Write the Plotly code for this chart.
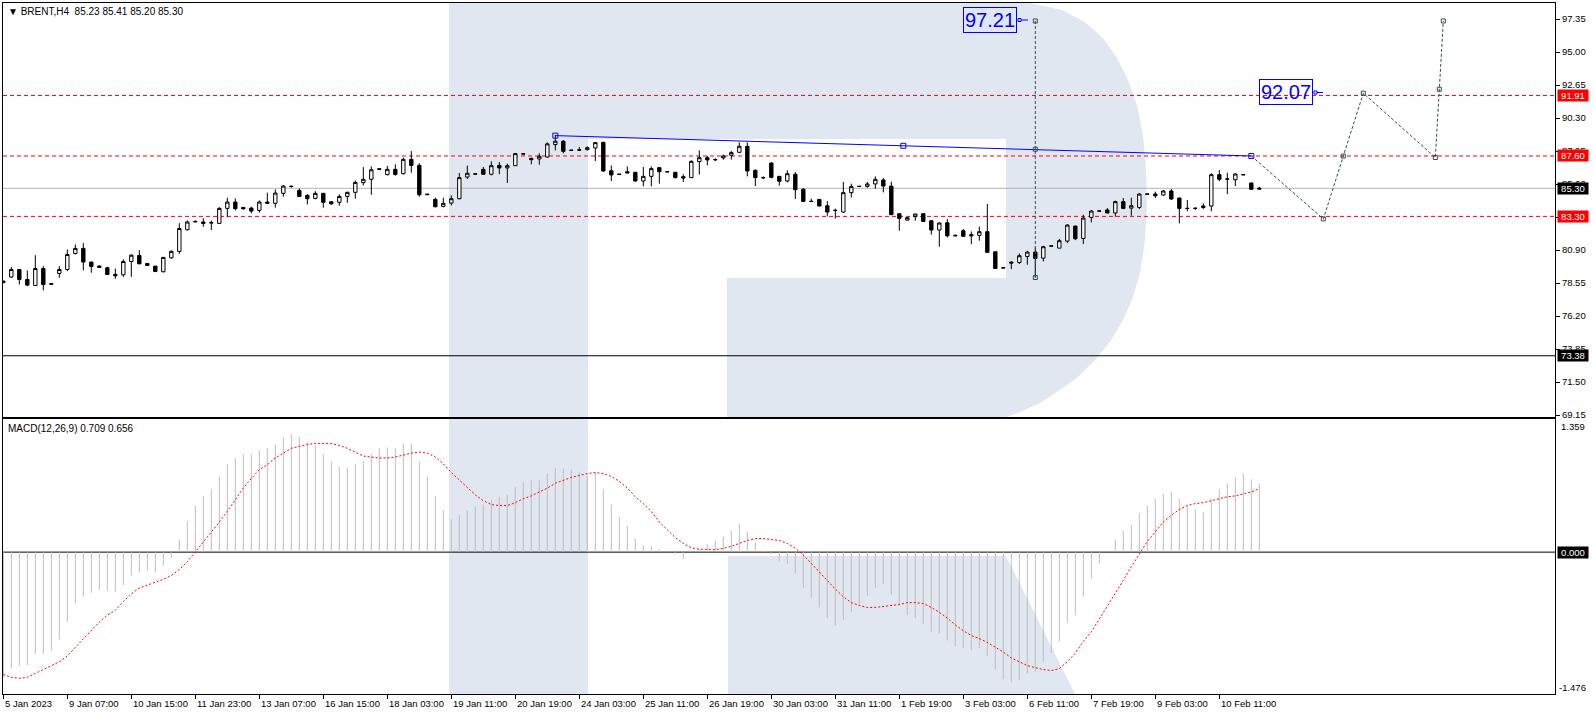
import plotly.graph_objects as go

# ---------------- DATA ----------------
OPEN = [78.58,78.98,79.52,78.81,78.38,79.59,78.52,79.24,79.52,80.66,81.02,80.05,79.76,79.64,79.17,79.14,80.09,80.52,79.95,79.76,
        79.36,80.35,80.81,82.35,82.95,82.90,82.86,82.80,83.87,84.32,83.94,83.89,83.73,84.32,84.23,84.94,85.45,85.15,84.80,84.58,
        84.94,84.34,84.30,84.72,85.01,85.70,85.94,86.69,86.27,86.65,86.34,87.36,86.93,84.89,84.51,84.01,84.25,84.56,86.10,86.33,
        86.65,86.30,86.93,86.75,86.91,87.76,87.43,87.39,87.53,88.41,88.65,88.02,88.04,88.05,88.17,88.57,86.55,86.31,86.48,86.44,
        85.82,86.15,86.77,86.49,86.44,86.13,86.06,87.20,87.48,87.35,87.46,87.65,87.86,88.29,86.58,86.07,87.10,86.15,85.82,86.30,
        85.23,84.38,84.51,84.06,83.74,83.61,84.99,85.45,85.44,85.61,85.89,85.46,83.49,83.04,83.28,83.49,82.99,82.33,82.85,81.96,
        82.28,82.00,81.95,82.21,80.78,79.65,80.05,80.02,80.45,80.76,80.33,81.18,81.04,81.54,82.61,81.73,83.23,83.67,83.76,83.54,
        84.35,83.89,83.94,84.90,84.89,84.82,85.11,84.61,83.88,83.86,84.04,84.04,86.27,85.97,85.91,86.28,85.68,85.23]
HIGH = [78.72,79.69,79.55,79.45,80.54,79.76,78.53,79.76,80.95,81.30,81.40,80.07,79.83,79.71,79.59,80.24,80.59,80.90,79.97,79.76,
        80.40,80.88,82.82,83.01,83.01,83.16,83.01,83.96,84.63,84.58,83.96,83.99,84.44,84.99,85.22,85.53,85.48,85.29,84.87,85.10,
        84.94,84.39,84.87,85.06,85.86,86.81,86.86,86.70,86.89,87.01,87.48,87.95,87.08,84.90,84.63,84.63,84.80,86.39,86.91,86.35,
        86.82,87.22,87.17,87.05,87.81,87.78,87.48,87.79,88.57,89.10,88.72,88.03,88.24,88.29,88.60,88.62,86.93,86.32,86.86,86.44,
        86.82,86.86,86.77,86.50,86.44,86.30,87.29,88.00,87.60,87.43,87.70,87.96,88.57,88.57,86.65,86.15,87.15,86.15,86.58,86.46,
        85.30,84.56,84.54,84.39,83.85,85.75,85.63,85.46,85.75,86.15,86.03,85.77,83.49,83.25,83.47,83.49,83.04,82.87,83.11,81.98,
        82.40,82.23,82.57,84.18,80.78,79.66,80.09,80.66,80.85,81.09,81.21,81.22,81.69,82.75,82.64,83.42,83.75,83.71,83.89,84.42,
        84.61,84.63,84.94,84.91,85.06,85.18,85.25,84.63,84.47,83.94,84.23,86.37,86.60,86.41,86.37,86.32,85.70,85.41]
LOW = [78.55,78.93,78.45,78.33,78.38,78.03,78.47,78.93,79.40,80.59,79.45,79.29,79.64,79.12,78.86,79.00,79.00,79.88,79.79,79.33,
       79.31,80.28,80.64,82.30,82.87,82.56,82.33,82.78,83.25,83.73,83.77,83.51,83.56,84.20,83.92,84.70,85.34,84.68,84.15,84.51,
       83.92,84.11,84.06,84.27,84.56,85.50,84.84,86.62,86.22,86.20,86.29,86.41,84.70,84.84,83.94,83.94,84.08,84.51,85.96,86.28,
       86.27,86.22,86.30,85.68,86.91,87.72,87.01,86.98,87.48,88.00,87.79,87.99,87.96,88.00,87.24,86.48,85.82,86.28,86.39,85.77,
       85.44,85.44,85.63,86.46,86.01,85.75,86.03,86.27,86.93,87.24,87.34,87.34,87.84,86.15,85.46,85.96,86.01,85.49,85.72,84.54,
       84.32,84.35,84.02,83.30,83.14,83.54,84.65,85.42,85.34,85.27,85.01,83.40,82.28,83.00,82.99,82.92,82.00,81.14,81.80,81.90,
       81.85,81.33,81.57,80.74,79.59,79.62,79.55,79.91,79.86,78.95,80.09,81.17,81.04,81.40,81.61,81.33,82.87,83.66,83.52,83.28,
       83.82,83.35,83.82,84.87,84.61,84.77,84.47,82.80,83.66,83.76,83.82,83.66,85.80,84.89,85.46,86.22,85.20,85.20]
CLOSE = [78.69,79.52,78.81,78.41,79.59,78.45,78.48,79.52,80.59,81.02,80.05,79.74,79.67,79.17,79.07,80.09,80.54,79.93,79.81,79.38,
         80.38,80.81,82.44,82.90,82.92,82.80,82.84,83.87,84.32,83.85,83.85,83.68,84.32,84.23,84.96,85.46,85.43,84.72,84.56,84.94,
         84.30,84.20,84.72,85.01,85.72,85.94,86.62,86.65,86.65,86.29,87.36,86.93,84.84,84.85,83.99,84.23,84.56,86.06,86.37,86.31,
         86.30,86.91,86.75,86.91,87.77,87.74,87.34,87.58,88.46,88.65,87.93,88.00,88.02,88.19,88.55,86.53,86.25,86.29,86.39,85.82,
         86.15,86.70,86.48,86.47,86.06,86.03,87.22,87.48,87.32,87.33,87.60,87.84,88.29,86.53,86.06,86.05,86.08,85.80,86.34,85.20,
         84.37,84.36,84.04,83.61,83.72,84.99,85.42,85.43,85.61,85.94,85.46,83.42,83.16,83.21,83.47,82.94,82.33,82.83,81.92,81.92,
         81.88,81.92,82.21,80.74,79.59,79.63,79.98,80.50,80.76,80.31,81.14,81.20,81.57,82.68,81.71,83.18,83.68,83.69,83.54,84.35,
         83.87,84.06,84.89,84.88,84.77,85.11,84.54,83.87,83.86,83.88,83.94,86.27,85.94,85.95,86.32,86.26,85.23,85.30]

MACD_HIST = [-1.29,-1.20,-1.17,-1.165,-1.05,-1.05,-1.01,-0.90,-0.72,-0.53,-0.46,-0.42,-0.39,-0.40,-0.41,-0.34,-0.24,-0.21,-0.19,-0.21,
             -0.14,-0.06,0.13,0.32,0.48,0.58,0.65,0.78,0.91,0.97,1.01,1.01,1.05,1.07,1.11,1.18,1.22,1.19,1.13,1.10,
             1.01,0.93,0.88,0.87,0.91,0.94,1.01,1.07,1.08,1.07,1.12,1.12,0.93,0.78,0.58,0.43,0.34,0.38,0.43,0.47,
             0.49,0.54,0.57,0.59,0.67,0.72,0.74,0.74,0.81,0.87,0.86,0.85,0.82,0.79,0.82,0.65,0.49,0.36,0.27,0.14,
             0.07,0.06,0.03,0.005,-0.02,-0.07,0.005,0.03,0.08,0.12,0.16,0.22,0.29,0.21,0.10,0.01,-0.02,-0.10,-0.12,-0.22,
             -0.37,-0.47,-0.57,-0.68,-0.76,-0.70,-0.62,-0.54,-0.45,-0.37,-0.33,-0.44,-0.55,-0.65,-0.68,-0.74,-0.82,-0.84,-0.91,-0.97,
             -0.99,-1.01,-0.99,-1.07,-1.21,-1.31,-1.34,-1.32,-1.25,-1.23,-1.13,-1.04,-0.92,-0.73,-0.65,-0.46,-0.27,-0.12,0.0,0.13,
             0.22,0.28,0.40,0.48,0.55,0.60,0.62,0.55,0.49,0.44,0.41,0.55,0.65,0.71,0.77,0.81,0.75,0.709]
MACD_SIGNAL = [-1.26,-1.29,-1.30,-1.29,-1.25,-1.21,-1.165,-1.13,-1.07,-0.98,-0.89,-0.80,-0.72,-0.65,-0.60,-0.51,-0.43,-0.37,-0.34,-0.31,
               -0.28,-0.24,-0.18,-0.10,0.00,0.10,0.21,0.31,0.42,0.54,0.66,0.76,0.85,0.90,0.97,1.02,1.07,1.09,1.11,1.12,
               1.12,1.12,1.10,1.07,1.03,0.99,0.98,0.97,0.97,0.98,1.00,1.02,1.03,1.02,0.98,0.91,0.82,0.74,0.66,0.59,
               0.53,0.49,0.48,0.48,0.51,0.55,0.58,0.62,0.66,0.71,0.74,0.77,0.79,0.81,0.82,0.81,0.78,0.73,0.66,0.57,
               0.50,0.42,0.31,0.23,0.15,0.09,0.045,0.03,0.025,0.025,0.04,0.06,0.09,0.12,0.14,0.14,0.13,0.12,0.09,0.04,
               -0.03,-0.12,-0.21,-0.30,-0.38,-0.46,-0.52,-0.55,-0.57,-0.57,-0.56,-0.55,-0.54,-0.52,-0.52,-0.53,-0.57,-0.62,-0.68,-0.75,
               -0.81,-0.86,-0.89,-0.93,-0.98,-1.03,-1.09,-1.13,-1.17,-1.19,-1.21,-1.22,-1.20,-1.13,-1.04,-0.92,-0.82,-0.69,-0.56,-0.43,
               -0.29,-0.15,-0.02,0.11,0.21,0.31,0.38,0.44,0.48,0.50,0.51,0.53,0.55,0.57,0.58,0.60,0.62,0.656]

XTICK_LABELS = ["5 Jan 2023","9 Jan 07:00","10 Jan 15:00","11 Jan 23:00","13 Jan 07:00","16 Jan 15:00","18 Jan 03:00",
                "19 Jan 11:00","20 Jan 19:00","24 Jan 03:00","25 Jan 11:00","26 Jan 19:00","30 Jan 03:00","31 Jan 11:00",
                "1 Feb 19:00","3 Feb 03:00","6 Feb 11:00","7 Feb 19:00","9 Feb 03:00","10 Feb 11:00"]
XTICK_BARS = [0,8,16,24,32,40,48,56,64,72,80,88,96,104,112,120,128,136,144,152]
PRICE_TICKS = [69.15,71.50,73.85,76.20,78.55,80.90,83.25,85.60,87.95,90.30,92.65,95.00,97.35]

LEVELS_RED = [91.91, 87.60, 83.30]
BID = 85.30
BLACK_LEVEL = 73.38

TREND_X = [69, 156]
TREND_Y = [89.05, 87.60]
FORECAST_X = [156, 165, 170, 179, 180]
FORECAST_Y = [87.60, 83.12, 92.07, 87.49, 97.21]
VLINE_X = 129
VLINE_Y = [97.21, 78.95]

HEADER = "▼ BRENT,H4\u00a0\u00a085.23 85.41 85.20 85.30"
MACD_HEADER = "MACD(12,26,9) 0.709 0.656"

# ---------------- GEOMETRY ----------------
W, H = 1595, 716
ML, MR, MT, MB = 3, 40, 3, 22
PW = W - ML - MR
PH = H - MT - MB

def px(x):
    return (x - ML) / PW

def py(y):
    return (H - MB - y) / PH

def path(points):
    return "M " + " L ".join(f"{px(x):.5f},{py(y):.5f}" for x, y in points) + " Z"

FONT = "Liberation Sans, Arial, sans-serif"
LOGO = "#E0E7F0"
N = len(OPEN)
X = list(range(N))

fig = go.Figure()

# ---- candles ----
fig.add_trace(go.Candlestick(
    x=X, open=OPEN, high=HIGH, low=LOW, close=CLOSE,
    increasing=dict(fillcolor="white", line=dict(color="black", width=1)),
    decreasing=dict(fillcolor="black", line=dict(color="black", width=1)),
    whiskerwidth=0, xaxis="x", yaxis="y", showlegend=False, hoverinfo="skip"))

# ---- trend line (blue) ----
fig.add_trace(go.Scatter(x=TREND_X, y=TREND_Y, mode="lines", line=dict(color="#0000FF", width=1),
                         xaxis="x", yaxis="y", showlegend=False, hoverinfo="skip"))
fig.add_trace(go.Scatter(x=[TREND_X[0], (TREND_X[0] + TREND_X[1]) / 2, TREND_X[1]],
                         y=[TREND_Y[0], (TREND_Y[0] + TREND_Y[1]) / 2, TREND_Y[1]],
                         mode="markers", marker=dict(symbol="square-open", size=5, color="#0000FF", line=dict(width=1)),
                         xaxis="x", yaxis="y", showlegend=False, hoverinfo="skip"))

# ---- forecast path (dashed) ----
DSG = "#2F4F4F"
fig.add_trace(go.Scatter(x=FORECAST_X, y=FORECAST_Y, mode="lines",
                         line=dict(color=DSG, width=1, dash="3px,2px"),
                         xaxis="x", yaxis="y", showlegend=False, hoverinfo="skip"))
mx = FORECAST_X[1:] + [(FORECAST_X[1] + FORECAST_X[2]) / 2, (FORECAST_X[3] + FORECAST_X[4]) / 2]
my = FORECAST_Y[1:] + [(FORECAST_Y[1] + FORECAST_Y[2]) / 2, (FORECAST_Y[3] + FORECAST_Y[4]) / 2]
fig.add_trace(go.Scatter(x=mx, y=my, mode="markers",
                         marker=dict(symbol="square-open", size=4, color=DSG, line=dict(width=1)),
                         xaxis="x", yaxis="y", showlegend=False, hoverinfo="skip"))
fig.add_trace(go.Scatter(x=[VLINE_X, VLINE_X], y=VLINE_Y, mode="lines",
                         line=dict(color=DSG, width=1, dash="3px,2px"),
                         xaxis="x", yaxis="y", showlegend=False, hoverinfo="skip"))
fig.add_trace(go.Scatter(x=[VLINE_X] * 3, y=[VLINE_Y[0], (VLINE_Y[0] + VLINE_Y[1]) / 2, VLINE_Y[1]],
                         mode="markers", marker=dict(symbol="square-open", size=4, color=DSG, line=dict(width=1)),
                         xaxis="x", yaxis="y", showlegend=False, hoverinfo="skip"))

# ---- MACD histogram ----
hx, hy = [], []
for i, v in enumerate(MACD_HIST):
    hx += [i, i, None]
    hy += [0, v, None]
fig.add_trace(go.Scatter(x=hx, y=hy, mode="lines", line=dict(color="#BDBDBD", width=1),
                         xaxis="x2", yaxis="y2", showlegend=False, hoverinfo="skip"))
fig.add_trace(go.Scatter(x=X, y=MACD_SIGNAL, mode="lines", line=dict(color="red", width=1, dash="2px,2px"),
                         xaxis="x2", yaxis="y2", showlegend=False, hoverinfo="skip"))

# ---------------- SHAPES ----------------
shapes = []
shapes.append(dict(type="rect", xref="paper", yref="paper", x0=px(449), x1=px(588), y0=py(694), y1=py(3),
                   fillcolor=LOGO, line=dict(width=0), layer="below"))
bowl = [(588, 3), (1030, 3), (1062, 10), (1085, 22), (1103, 38), (1117, 58), (1128, 80), (1137, 105), (1143, 135),
        (1146, 170), (1147, 205), (1145, 240), (1140, 274), (1132, 300), (1123, 320), (1110, 342), (1095, 360),
        (1078, 377), (1060, 390), (1040, 403), (1020, 412), (1006, 417), (727, 417), (727, 278), (1006, 278),
        (1006, 139), (588, 139)]
shapes.append(dict(type="path", xref="paper", yref="paper", path=path(bowl),
                   fillcolor=LOGO, line=dict(width=0), layer="below"))
leg = [(728, 556), (1006, 556), (1075, 694), (728, 694)]
shapes.append(dict(type="path", xref="paper", yref="paper", path=path(leg),
                   fillcolor=LOGO, line=dict(width=0), layer="below"))

for lv in LEVELS_RED:
    shapes.append(dict(type="line", xref="paper", yref="y", x0=0, x1=1, y0=lv, y1=lv,
                       line=dict(color="red", width=1, dash="4px,3px"), layer="below"))
shapes.append(dict(type="line", xref="paper", yref="y", x0=0, x1=1, y0=BID, y1=BID,
                   line=dict(color="#B4B4B4", width=1), layer="below"))
shapes.append(dict(type="line", xref="paper", yref="y", x0=0, x1=1, y0=BLACK_LEVEL, y1=BLACK_LEVEL,
                   line=dict(color="black", width=1), layer="below"))
shapes.append(dict(type="line", xref="paper", yref="y2", x0=0, x1=1, y0=0, y1=0,
                   line=dict(color="black", width=1), layer="below"))

for (sx, sy, ex) in [(1019.5, 20, 1028), (1315.5, 92.5, 1323)]:
    shapes.append(dict(type="rect", xref="paper", yref="paper", x0=px(sx - 1.5), x1=px(sx + 1.5),
                       y0=py(sy + 1.5), y1=py(sy - 1.5), line=dict(color="#0000FF", width=1)))
    shapes.append(dict(type="line", xref="paper", yref="paper", x0=px(sx + 1.5), x1=px(ex),
                       y0=py(sy), y1=py(sy), line=dict(color="#0000FF", width=1)))

# ---------------- ANNOTATIONS ----------------
ann = []
ann.append(dict(text=HEADER, xref="paper", yref="paper", x=px(6), y=py(11), xanchor="left", yanchor="middle",
                showarrow=False, font=dict(family=FONT, size=10, color="black")))
ann.append(dict(text=MACD_HEADER, xref="paper", yref="paper", x=px(6), y=py(428), xanchor="left", yanchor="middle",
                showarrow=False, font=dict(family=FONT, size=10, color="black")))
for b, lab in zip(XTICK_BARS, XTICK_LABELS):
    ann.append(dict(text=lab, xref="x2", yref="paper", x=b, xshift=0, y=py(703), xanchor="left", yanchor="middle",
                    showarrow=False, font=dict(family=FONT, size=9.5, color="black")))
for lv in LEVELS_RED:
    ann.append(dict(text=f"{lv:.2f}", xref="paper", yref="y", x=px(1557), y=lv, xanchor="left", yanchor="middle",
                    showarrow=False, bgcolor="red", width=30, height=11, borderpad=0,
                    font=dict(family=FONT, size=9.5, color="white")))
for lv in [BID, BLACK_LEVEL]:
    ann.append(dict(text=f"{lv:.2f}", xref="paper", yref="y", x=px(1557), y=lv, xanchor="left", yanchor="middle",
                    showarrow=False, bgcolor="black", width=30, height=11, borderpad=0,
                    font=dict(family=FONT, size=9.5, color="white")))
ann.append(dict(text="0.000", xref="paper", yref="y2", x=px(1557), y=0, xanchor="left", yanchor="middle",
                showarrow=False, bgcolor="black", width=30, height=11, borderpad=0,
                font=dict(family=FONT, size=9.5, color="white")))
ann.append(dict(text="1.359", xref="paper", yref="paper", x=px(1559), y=py(426), xanchor="left", yanchor="middle",
                showarrow=False, font=dict(family=FONT, size=9.5, color="black")))
ann.append(dict(text="-1.476", xref="paper", yref="paper", x=px(1557), y=py(687), xanchor="left", yanchor="middle",
                showarrow=False, font=dict(family=FONT, size=9.5, color="black")))
ann.append(dict(text=f"{VLINE_Y[0]:.2f}", xref="paper", yref="paper", x=px(1017), y=py(20), xanchor="right",
                yanchor="middle", showarrow=False, bordercolor="#0000FF", borderwidth=1, borderpad=1,
                font=dict(family=FONT, size=20, color="#0000FF")))
ann.append(dict(text=f"{FORECAST_Y[2]:.2f}", xref="paper", yref="paper", x=px(1313), y=py(92.5), xanchor="right",
                yanchor="middle", showarrow=False, bordercolor="#0000FF", borderwidth=1, borderpad=1,
                font=dict(family=FONT, size=20, color="#0000FF")))

XR = [-0.04, 193.96]
fig.update_layout(
    width=W, height=H, autosize=False,
    margin=dict(l=ML, r=MR, t=MT, b=MB, pad=0),
    paper_bgcolor="white", plot_bgcolor="rgba(0,0,0,0)",
    showlegend=False, boxgap=0.4,
    shapes=shapes, annotations=ann,
    xaxis=dict(domain=[0, 1], range=XR, anchor="y", showline=True, mirror=True, linecolor="black", linewidth=1,
               showgrid=False, zeroline=False, showticklabels=False, ticks="", rangeslider=dict(visible=False)),
    yaxis=dict(domain=[py(417), 1], range=[69.02, 98.49], anchor="x", side="right", showline=True, mirror=True,
               linecolor="black", linewidth=1, showgrid=False, zeroline=False, ticks="outside", ticklen=4,
               tickcolor="black", tickvals=PRICE_TICKS, ticktext=[f"{v:.2f}" for v in PRICE_TICKS],
               tickfont=dict(family=FONT, size=9.5, color="black")),
    xaxis2=dict(domain=[0, 1], range=XR, anchor="y2", matches="x", showline=True, mirror=True, linecolor="black",
                linewidth=1, showgrid=False, zeroline=False, ticks="outside", ticklen=4, tickcolor="black",
                tickvals=XTICK_BARS, showticklabels=False),
    yaxis2=dict(domain=[0, py(419)], range=[-1.462, 1.372], anchor="x2", side="right", showline=True, mirror=True,
                linecolor="black", linewidth=1, showgrid=False, zeroline=False, showticklabels=False, ticks=""),
)

fig.write_html("out.html", config={"displayModeBar": False})

# remove the default page margin so the figure sits at the window's top-left corner
with open("out.html", "r", encoding="utf-8") as f:
    html = f.read()
html = html.replace("<head>", "<head><style>html,body{margin:0;padding:0;overflow:hidden;}</style>", 1)
with open("out.html", "w", encoding="utf-8") as f:
    f.write(html)
